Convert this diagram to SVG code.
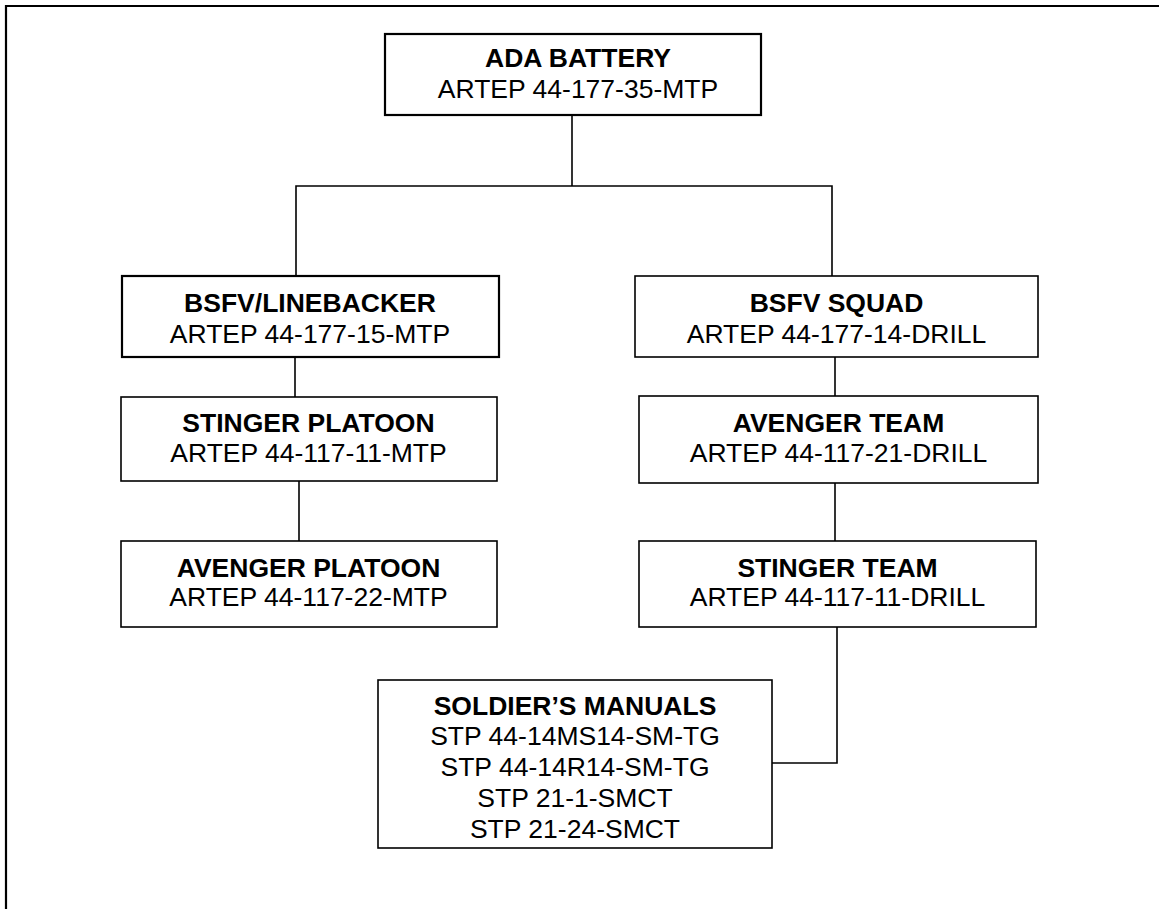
<svg xmlns="http://www.w3.org/2000/svg" width="1159" height="909" viewBox="0 0 1159 909">
<style>
.box{fill:#fff;stroke:#000;stroke-width:1.6}
.thick{stroke-width:2.2}
.conn{fill:none;stroke:#000;stroke-width:1.6}
text{font-family:"Liberation Sans",Arial,sans-serif;font-size:26.5px;fill:#000;text-anchor:middle}
.b{font-weight:bold}
</style>
<rect width="1159" height="909" fill="#fff"/>
<g id="frame"><path d="M6,909 V6 H1159" fill="none" stroke="#000" stroke-width="2.2"/></g>
<g id="connectors">
<path class="conn" d="M572,115 V186"/>
<path class="conn" d="M296,276 V186 H832 V276"/>
<path class="conn" d="M295,357 V397"/>
<path class="conn" d="M299,481 V541"/>
<path class="conn" d="M835,357 V397"/>
<path class="conn" d="M835,483 V541"/>
<path class="conn" d="M837,627 V763 H772"/>
</g>
<g id="ada-battery">
<rect class="box thick" x="385" y="34" width="376" height="81"/>
<text class="b" x="578" y="67">ADA BATTERY</text>
<text x="578" y="98">ARTEP 44-177-35-MTP</text>
</g>
<g id="bsfv-linebacker">
<rect class="box thick" x="122" y="276" width="377" height="81"/>
<text class="b" x="310" y="312">BSFV/LINEBACKER</text>
<text x="310" y="343">ARTEP 44-177-15-MTP</text>
</g>
<g id="stinger-platoon">
<rect class="box" x="121" y="397" width="376" height="84"/>
<text class="b" x="308.5" y="432">STINGER PLATOON</text>
<text x="308.5" y="462">ARTEP 44-117-11-MTP</text>
</g>
<g id="avenger-platoon">
<rect class="box" x="121" y="541" width="376" height="86"/>
<text class="b" x="308.5" y="577">AVENGER PLATOON</text>
<text x="308.5" y="606">ARTEP 44-117-22-MTP</text>
</g>
<g id="bsfv-squad">
<rect class="box" x="635" y="276" width="403" height="81"/>
<text class="b" x="836.5" y="312">BSFV SQUAD</text>
<text x="836.5" y="343">ARTEP 44-177-14-DRILL</text>
</g>
<g id="avenger-team">
<rect class="box" x="639" y="396" width="399" height="87"/>
<text class="b" x="838.5" y="432">AVENGER TEAM</text>
<text x="838.5" y="462">ARTEP 44-117-21-DRILL</text>
</g>
<g id="stinger-team">
<rect class="box" x="639" y="541" width="397" height="86"/>
<text class="b" x="837.5" y="577">STINGER TEAM</text>
<text x="837.5" y="606">ARTEP 44-117-11-DRILL</text>
</g>
<g id="soldiers-manuals">
<rect class="box" x="378" y="680" width="394" height="168"/>
<text class="b" x="575" y="715">SOLDIER’S MANUALS</text>
<text x="575" y="745">STP 44-14MS14-SM-TG</text>
<text x="575" y="776">STP 44-14R14-SM-TG</text>
<text x="575" y="807">STP 21-1-SMCT</text>
<text x="575" y="838">STP 21-24-SMCT</text>
</g>
</svg>
